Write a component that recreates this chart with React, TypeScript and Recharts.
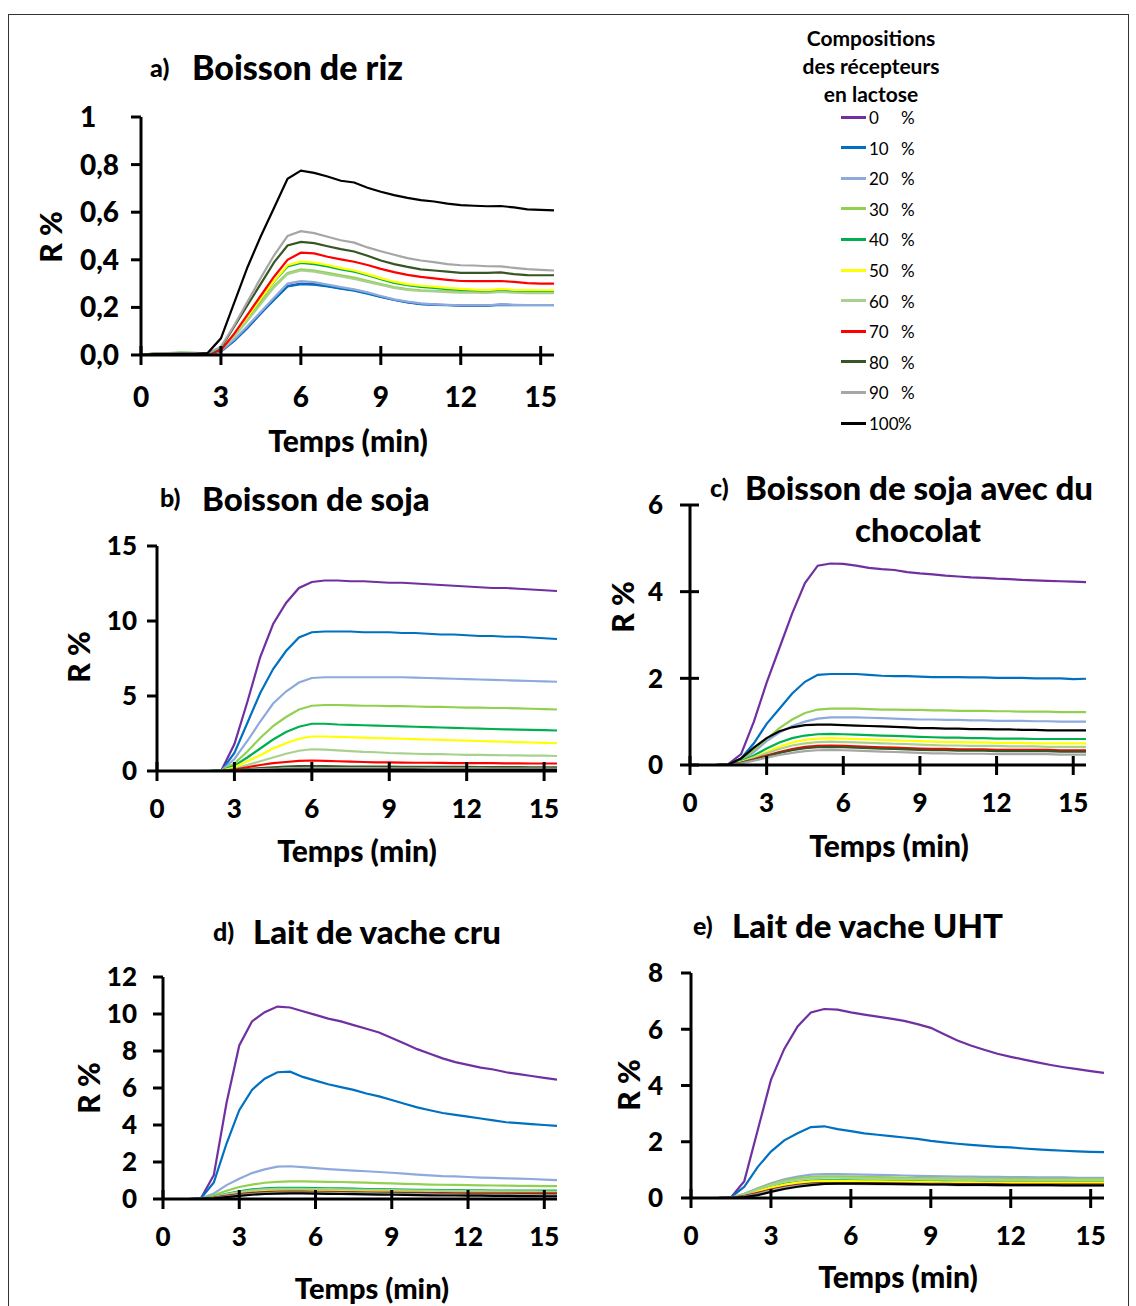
import React from 'react';
import { LineChart, Line, XAxis, YAxis } from 'recharts';

const FONT = "Lato, 'Open Sans', sans-serif";

// time axis (min), one reading every 30 s
const times = [0, 0.5, 1, 1.5, 2, 2.5, 3, 3.5, 4, 4.5, 5, 5.5, 6, 6.5, 7, 7.5, 8, 8.5, 9, 9.5, 10, 10.5, 11, 11.5, 12, 12.5, 13, 13.5, 14, 14.5, 15, 15.5];
const xTicks = [0, 3, 6, 9, 12, 15];

// receptor lactose compositions
const seriesLabels = ['0', '10', '20', '30', '40', '50', '60', '70', '80', '90', '100'];
const seriesColors = ['#7030A0', '#0070C0', '#8EA9DB', '#92D050', '#00B050', '#FFFF00', '#A9D18E', '#FF0000', '#375623', '#A6A6A6', '#000000'];

// a) Boisson de riz
const rizValues = [
  [0, 0.005, 0.005, 0.008, 0.006, 0.004, 0.015, 0.06, 0.115, 0.175, 0.235, 0.29, 0.3, 0.298, 0.29, 0.28, 0.272, 0.26, 0.245, 0.232, 0.222, 0.215, 0.212, 0.21, 0.208, 0.208, 0.208, 0.212, 0.21, 0.21, 0.21, 0.21],
  [0, 0.004, 0.006, 0.007, 0.006, 0.004, 0.015, 0.06, 0.115, 0.175, 0.232, 0.288, 0.298, 0.296, 0.288, 0.279, 0.27, 0.258, 0.244, 0.231, 0.221, 0.214, 0.211, 0.209, 0.207, 0.207, 0.207, 0.211, 0.209, 0.209, 0.209, 0.209],
  [0, 0.006, 0.005, 0.008, 0.007, 0.005, 0.018, 0.065, 0.122, 0.182, 0.242, 0.3, 0.31, 0.306, 0.296, 0.285, 0.276, 0.263, 0.248, 0.234, 0.224, 0.217, 0.213, 0.211, 0.209, 0.209, 0.209, 0.213, 0.211, 0.21, 0.21, 0.21],
  [0, 0.008, 0.007, 0.01, 0.009, 0.006, 0.02, 0.08, 0.15, 0.22, 0.29, 0.345, 0.36, 0.355, 0.345, 0.335, 0.325, 0.312, 0.298, 0.285, 0.277, 0.272, 0.27, 0.267, 0.265, 0.265, 0.264, 0.268, 0.265, 0.263, 0.262, 0.262],
  [0, 0.006, 0.008, 0.009, 0.008, 0.006, 0.02, 0.085, 0.16, 0.235, 0.31, 0.372, 0.387, 0.382, 0.372, 0.36, 0.35, 0.335, 0.318, 0.303, 0.293, 0.286, 0.282, 0.277, 0.273, 0.27, 0.268, 0.272, 0.268, 0.267, 0.266, 0.266],
  [0, 0.005, 0.006, 0.007, 0.006, 0.005, 0.02, 0.085, 0.16, 0.237, 0.312, 0.377, 0.392, 0.388, 0.378, 0.365, 0.355, 0.34, 0.323, 0.308, 0.298, 0.291, 0.287, 0.282, 0.278, 0.275, 0.273, 0.278, 0.274, 0.273, 0.272, 0.272],
  [0, 0.007, 0.008, 0.009, 0.009, 0.007, 0.02, 0.078, 0.145, 0.215, 0.285, 0.34, 0.355, 0.35, 0.34, 0.33, 0.32, 0.307, 0.294, 0.282, 0.274, 0.269, 0.267, 0.264, 0.262, 0.262, 0.261, 0.265, 0.262, 0.26, 0.26, 0.26],
  [0, 0.004, 0.004, 0.005, 0.004, 0.003, 0.02, 0.09, 0.17, 0.25, 0.33, 0.4, 0.43, 0.427, 0.413, 0.402, 0.392, 0.378, 0.362, 0.348, 0.337, 0.328, 0.322, 0.316, 0.311, 0.31, 0.31, 0.311, 0.307, 0.302, 0.3, 0.3],
  [0, 0.005, 0.006, 0.006, 0.006, 0.005, 0.03, 0.12, 0.21, 0.3, 0.39, 0.46, 0.475, 0.47, 0.457, 0.445, 0.435, 0.417, 0.397, 0.382, 0.37, 0.36, 0.355, 0.35, 0.345, 0.345, 0.345, 0.347, 0.34, 0.336, 0.335, 0.335],
  [0, 0.006, 0.006, 0.007, 0.007, 0.006, 0.035, 0.125, 0.225, 0.325, 0.42, 0.5, 0.52, 0.512, 0.497, 0.482, 0.472, 0.452, 0.436, 0.421, 0.407, 0.397, 0.39, 0.382, 0.377, 0.376, 0.373, 0.372, 0.366, 0.361, 0.358, 0.355],
  [0, 0.004, 0.004, 0.005, 0.005, 0.008, 0.07, 0.22, 0.37, 0.5, 0.62, 0.74, 0.775, 0.765, 0.75, 0.732, 0.725, 0.703, 0.686, 0.672, 0.66, 0.651, 0.645, 0.636, 0.63, 0.627, 0.625, 0.626, 0.62, 0.612, 0.61, 0.608],
];
const rizYTicks = [0, 0.2, 0.4, 0.6, 0.8, 1];

// b) Boisson de soja
const sojaValues = [
  [0, 0, 0, 0, 0, 0.05, 1.8, 4.6, 7.6, 9.8, 11.2, 12.2, 12.6, 12.7, 12.7, 12.65, 12.65, 12.6, 12.55, 12.55, 12.5, 12.45, 12.4, 12.35, 12.3, 12.25, 12.2, 12.2, 12.15, 12.1, 12.05, 12.0],
  [0, 0, 0, 0, 0, 0.04, 1.2, 3.2, 5.2, 6.8, 8.0, 8.9, 9.25, 9.3, 9.3, 9.3, 9.25, 9.25, 9.25, 9.2, 9.2, 9.15, 9.1, 9.1, 9.05, 9.0, 9.0, 8.95, 8.95, 8.9, 8.85, 8.8],
  [0, 0, 0, 0, 0, 0.03, 0.8, 2.0, 3.3, 4.5, 5.3, 5.9, 6.2, 6.25, 6.25, 6.25, 6.25, 6.25, 6.25, 6.25, 6.22, 6.2, 6.18, 6.15, 6.12, 6.1, 6.08, 6.05, 6.02, 6.0, 5.97, 5.95],
  [0, 0, 0, 0, 0, 0.02, 0.5, 1.3, 2.2, 3.0, 3.6, 4.1, 4.35, 4.4, 4.4, 4.38, 4.35, 4.35, 4.33, 4.32, 4.3, 4.28, 4.27, 4.25, 4.23, 4.22, 4.2, 4.2, 4.17, 4.15, 4.12, 4.1],
  [0, 0, 0, 0, 0, 0.02, 0.35, 0.9, 1.5, 2.1, 2.6, 2.95, 3.15, 3.15, 3.1, 3.08, 3.05, 3.03, 3.0, 2.98, 2.95, 2.92, 2.9, 2.88, 2.85, 2.82, 2.8, 2.78, 2.76, 2.74, 2.72, 2.7],
  [0, 0, 0, 0, 0, 0.01, 0.25, 0.65, 1.05, 1.5, 1.85, 2.15, 2.3, 2.3, 2.28, 2.25, 2.22, 2.2, 2.18, 2.15, 2.12, 2.1, 2.08, 2.05, 2.02, 2.0, 1.98, 1.95, 1.93, 1.9, 1.88, 1.85],
  [0, 0, 0, 0, 0, 0.01, 0.15, 0.4, 0.65, 0.9, 1.15, 1.35, 1.45, 1.42, 1.38, 1.33, 1.28, 1.25, 1.2, 1.18, 1.15, 1.13, 1.12, 1.1, 1.08, 1.07, 1.06, 1.05, 1.04, 1.03, 1.02, 1.0],
  [0, 0, 0, 0, 0, 0.01, 0.1, 0.25, 0.4, 0.52, 0.6, 0.67, 0.7, 0.68, 0.65, 0.63, 0.6, 0.58, 0.57, 0.56, 0.55, 0.55, 0.54, 0.53, 0.53, 0.52, 0.52, 0.51, 0.51, 0.5, 0.5, 0.5],
  [0, 0, 0, 0, 0, 0.01, 0.05, 0.12, 0.2, 0.25, 0.3, 0.32, 0.33, 0.32, 0.31, 0.3, 0.3, 0.29, 0.29, 0.28, 0.28, 0.28, 0.27, 0.27, 0.27, 0.26, 0.26, 0.26, 0.26, 0.25, 0.25, 0.25],
  [0, 0, 0, 0, 0, 0, 0.03, 0.08, 0.12, 0.15, 0.18, 0.2, 0.21, 0.2, 0.2, 0.19, 0.19, 0.19, 0.18, 0.18, 0.18, 0.18, 0.17, 0.17, 0.17, 0.17, 0.16, 0.16, 0.16, 0.16, 0.16, 0.15],
  [0, 0, 0, 0, 0, 0, 0.02, 0.04, 0.06, 0.08, 0.09, 0.1, 0.1, 0.1, 0.1, 0.1, 0.09, 0.09, 0.09, 0.09, 0.09, 0.08, 0.08, 0.08, 0.08, 0.08, 0.08, 0.08, 0.07, 0.07, 0.07, 0.07],
];
const sojaYTicks = [0, 5, 10, 15];

// c) Boisson de soja avec du chocolat
const chocolatValues = [
  [0, 0, 0, 0.02, 0.25, 1.0, 1.9, 2.7, 3.5, 4.2, 4.6, 4.65, 4.64, 4.6, 4.55, 4.52, 4.5, 4.45, 4.42, 4.4, 4.37, 4.35, 4.33, 4.32, 4.3, 4.29, 4.27, 4.26, 4.25, 4.24, 4.23, 4.22],
  [0, 0, 0, 0.01, 0.15, 0.5, 0.95, 1.3, 1.65, 1.92, 2.08, 2.1, 2.1, 2.1, 2.08, 2.06, 2.05, 2.05, 2.04, 2.03, 2.03, 2.03, 2.02, 2.02, 2.01, 2.01, 2.01, 2.0, 2.0, 2.0, 1.98, 1.99],
  [0, 0, 0, 0.01, 0.1, 0.3, 0.55, 0.75, 0.9, 1.0, 1.07, 1.1, 1.1, 1.1, 1.09, 1.08, 1.07, 1.06, 1.05, 1.05, 1.04, 1.04, 1.03, 1.03, 1.02, 1.02, 1.02, 1.01, 1.01, 1.0, 1.0, 1.0],
  [0, 0, 0, 0.01, 0.12, 0.35, 0.6, 0.85, 1.05, 1.2, 1.28, 1.3, 1.3, 1.3, 1.29, 1.28, 1.28, 1.27, 1.27, 1.26, 1.26, 1.25, 1.25, 1.25, 1.24, 1.24, 1.23, 1.23, 1.23, 1.22, 1.22, 1.22],
  [0, 0, 0, 0.01, 0.08, 0.22, 0.38, 0.52, 0.62, 0.68, 0.71, 0.72, 0.71, 0.7, 0.69, 0.68, 0.67, 0.66, 0.65, 0.64, 0.63, 0.63, 0.62, 0.62, 0.61, 0.61, 0.61, 0.6, 0.6, 0.6, 0.6, 0.6],
  [0, 0, 0, 0.01, 0.07, 0.18, 0.3, 0.42, 0.52, 0.58, 0.61, 0.62, 0.61, 0.6, 0.59, 0.58, 0.57, 0.56, 0.55, 0.54, 0.53, 0.53, 0.52, 0.52, 0.51, 0.51, 0.51, 0.5, 0.5, 0.5, 0.5, 0.5],
  [0, 0, 0, 0.01, 0.06, 0.16, 0.27, 0.37, 0.45, 0.5, 0.53, 0.54, 0.53, 0.52, 0.51, 0.5, 0.49, 0.48, 0.47, 0.46, 0.45, 0.45, 0.44, 0.44, 0.44, 0.43, 0.43, 0.43, 0.42, 0.42, 0.42, 0.42],
  [0, 0, 0, 0.01, 0.05, 0.13, 0.22, 0.3, 0.37, 0.42, 0.44, 0.45, 0.44, 0.43, 0.42, 0.41, 0.4, 0.39, 0.38, 0.37, 0.37, 0.36, 0.36, 0.36, 0.35, 0.35, 0.35, 0.35, 0.35, 0.34, 0.34, 0.34],
  [0, 0, 0, 0.01, 0.05, 0.12, 0.2, 0.28, 0.34, 0.39, 0.41, 0.42, 0.41, 0.4, 0.39, 0.38, 0.37, 0.36, 0.35, 0.34, 0.34, 0.33, 0.33, 0.33, 0.32, 0.32, 0.32, 0.32, 0.32, 0.31, 0.31, 0.31],
  [0, 0, 0, 0.01, 0.04, 0.1, 0.17, 0.23, 0.28, 0.32, 0.34, 0.35, 0.34, 0.33, 0.32, 0.31, 0.3, 0.29, 0.28, 0.27, 0.27, 0.26, 0.26, 0.26, 0.25, 0.25, 0.25, 0.25, 0.25, 0.24, 0.24, 0.24],
  [0, 0, 0, 0.01, 0.15, 0.4, 0.62, 0.78, 0.87, 0.92, 0.93, 0.93, 0.92, 0.91, 0.9, 0.89, 0.88, 0.87, 0.85, 0.85, 0.84, 0.84, 0.83, 0.83, 0.82, 0.82, 0.81, 0.81, 0.8, 0.8, 0.8, 0.8],
];
const chocolatYTicks = [0, 2, 4, 6];

// d) Lait de vache cru
const cruValues = [
  [0, 0, 0, 0.05, 1.3, 5.2, 8.3, 9.6, 10.1, 10.4, 10.35, 10.15, 9.95, 9.75, 9.6, 9.4, 9.2, 9.0, 8.7, 8.4, 8.1, 7.85, 7.6, 7.4, 7.25, 7.1, 7.0, 6.85, 6.75, 6.65, 6.55, 6.45],
  [0, 0, 0, 0.05, 0.9, 3.0, 4.8, 5.9, 6.5, 6.85, 6.88, 6.6, 6.4, 6.2, 6.05, 5.9, 5.7, 5.55, 5.35, 5.15, 4.95, 4.8, 4.65, 4.55, 4.45, 4.35, 4.25, 4.15, 4.1, 4.05, 4.0, 3.95],
  [0, 0, 0, 0.02, 0.3, 0.75, 1.1, 1.4, 1.6, 1.75, 1.77, 1.72, 1.67, 1.62, 1.57, 1.53, 1.5, 1.46, 1.42, 1.37, 1.32, 1.28, 1.24, 1.22, 1.19, 1.16, 1.14, 1.12, 1.1, 1.08, 1.05, 1.02],
  [0, 0, 0, 0.01, 0.2, 0.45, 0.65, 0.78, 0.88, 0.93, 0.95, 0.95, 0.94, 0.93, 0.92, 0.9, 0.88, 0.86, 0.84, 0.82, 0.8, 0.78, 0.77, 0.76, 0.75, 0.74, 0.73, 0.72, 0.71, 0.71, 0.7, 0.7],
  [0, 0, 0, 0.01, 0.12, 0.28, 0.42, 0.52, 0.57, 0.6, 0.6, 0.6, 0.59, 0.58, 0.57, 0.56, 0.54, 0.53, 0.52, 0.51, 0.5, 0.49, 0.48, 0.48, 0.47, 0.47, 0.46, 0.46, 0.45, 0.45, 0.45, 0.45],
  [0, 0, 0, 0.01, 0.08, 0.2, 0.3, 0.37, 0.42, 0.45, 0.45, 0.45, 0.44, 0.44, 0.43, 0.42, 0.41, 0.4, 0.4, 0.39, 0.38, 0.38, 0.37, 0.37, 0.36, 0.36, 0.36, 0.35, 0.35, 0.35, 0.35, 0.35],
  [0, 0, 0, 0.01, 0.1, 0.25, 0.38, 0.47, 0.52, 0.55, 0.55, 0.55, 0.54, 0.53, 0.52, 0.51, 0.5, 0.49, 0.48, 0.47, 0.46, 0.45, 0.44, 0.44, 0.43, 0.43, 0.42, 0.42, 0.41, 0.41, 0.4, 0.4],
  [0, 0, 0, 0.01, 0.07, 0.17, 0.26, 0.33, 0.37, 0.4, 0.4, 0.4, 0.39, 0.38, 0.37, 0.36, 0.35, 0.34, 0.34, 0.33, 0.33, 0.32, 0.32, 0.31, 0.31, 0.31, 0.3, 0.3, 0.3, 0.3, 0.3, 0.3],
  [0, 0, 0, 0.01, 0.06, 0.15, 0.24, 0.31, 0.35, 0.37, 0.38, 0.38, 0.37, 0.36, 0.35, 0.34, 0.33, 0.32, 0.31, 0.3, 0.3, 0.29, 0.28, 0.28, 0.27, 0.27, 0.26, 0.26, 0.26, 0.25, 0.25, 0.25],
  [0, 0, 0, 0.01, 0.05, 0.13, 0.21, 0.27, 0.31, 0.34, 0.35, 0.35, 0.34, 0.33, 0.32, 0.31, 0.3, 0.29, 0.28, 0.27, 0.26, 0.25, 0.24, 0.24, 0.23, 0.23, 0.22, 0.22, 0.21, 0.21, 0.2, 0.2],
  [0, 0, 0, 0.01, 0.04, 0.1, 0.17, 0.23, 0.27, 0.29, 0.3, 0.3, 0.29, 0.28, 0.27, 0.26, 0.25, 0.24, 0.23, 0.22, 0.21, 0.2, 0.19, 0.19, 0.18, 0.18, 0.17, 0.17, 0.16, 0.16, 0.15, 0.15],
];
const cruYTicks = [0, 2, 4, 6, 8, 10, 12];

// e) Lait de vache UHT
const uhtValues = [
  [0, 0, 0, 0.02, 0.6, 2.4, 4.2, 5.3, 6.1, 6.6, 6.72, 6.7, 6.6, 6.52, 6.45, 6.38, 6.3, 6.18, 6.05, 5.82, 5.6, 5.42, 5.27, 5.13, 5.02, 4.92, 4.82, 4.73, 4.65, 4.58, 4.51, 4.45],
  [0, 0, 0, 0.02, 0.4, 1.1, 1.65, 2.05, 2.3, 2.52, 2.55, 2.45, 2.38, 2.3, 2.25, 2.2, 2.15, 2.1, 2.03, 1.98, 1.93, 1.89, 1.85, 1.82, 1.8, 1.76, 1.73, 1.7, 1.68, 1.66, 1.64, 1.63],
  [0, 0, 0, 0.01, 0.15, 0.35, 0.52, 0.66, 0.76, 0.83, 0.85, 0.85, 0.84, 0.83, 0.82, 0.81, 0.8, 0.79, 0.78, 0.77, 0.76, 0.76, 0.75, 0.75, 0.74, 0.74, 0.73, 0.73, 0.73, 0.72, 0.72, 0.72],
  [0, 0, 0, 0.01, 0.14, 0.33, 0.5, 0.62, 0.7, 0.75, 0.77, 0.77, 0.76, 0.75, 0.74, 0.73, 0.72, 0.71, 0.71, 0.7, 0.7, 0.7, 0.69, 0.69, 0.69, 0.68, 0.68, 0.68, 0.68, 0.68, 0.68, 0.68],
  [0, 0, 0, 0.01, 0.1, 0.25, 0.38, 0.5, 0.57, 0.62, 0.63, 0.63, 0.63, 0.62, 0.62, 0.61, 0.6, 0.6, 0.59, 0.59, 0.58, 0.58, 0.58, 0.58, 0.57, 0.57, 0.57, 0.57, 0.57, 0.57, 0.57, 0.57],
  [0, 0, 0, 0.01, 0.1, 0.24, 0.37, 0.48, 0.55, 0.59, 0.6, 0.6, 0.6, 0.59, 0.59, 0.58, 0.58, 0.57, 0.57, 0.56, 0.56, 0.56, 0.55, 0.55, 0.55, 0.55, 0.55, 0.55, 0.55, 0.55, 0.55, 0.55],
  [0, 0, 0, 0.01, 0.12, 0.3, 0.46, 0.58, 0.65, 0.7, 0.72, 0.72, 0.71, 0.7, 0.69, 0.68, 0.68, 0.67, 0.67, 0.66, 0.66, 0.65, 0.65, 0.65, 0.64, 0.64, 0.64, 0.64, 0.64, 0.64, 0.64, 0.64],
  [0, 0, 0, 0.01, 0.07, 0.18, 0.3, 0.4, 0.47, 0.51, 0.53, 0.53, 0.53, 0.52, 0.52, 0.51, 0.51, 0.5, 0.5, 0.5, 0.49, 0.49, 0.49, 0.49, 0.48, 0.48, 0.48, 0.48, 0.48, 0.48, 0.48, 0.48],
  [0, 0, 0, 0.01, 0.06, 0.16, 0.28, 0.38, 0.45, 0.5, 0.52, 0.52, 0.52, 0.51, 0.51, 0.5, 0.5, 0.49, 0.49, 0.49, 0.48, 0.48, 0.48, 0.48, 0.47, 0.47, 0.47, 0.47, 0.47, 0.47, 0.47, 0.47],
  [0, 0, 0, 0.01, 0.05, 0.14, 0.26, 0.36, 0.43, 0.48, 0.5, 0.5, 0.5, 0.49, 0.49, 0.48, 0.48, 0.47, 0.47, 0.47, 0.46, 0.46, 0.46, 0.46, 0.45, 0.45, 0.45, 0.45, 0.45, 0.45, 0.45, 0.45],
  [0, 0, 0, 0, 0.03, 0.1, 0.22, 0.32, 0.4, 0.46, 0.5, 0.51, 0.51, 0.51, 0.5, 0.5, 0.49, 0.49, 0.48, 0.48, 0.47, 0.47, 0.47, 0.46, 0.46, 0.46, 0.46, 0.46, 0.45, 0.45, 0.45, 0.45],
];
const uhtYTicks = [0, 2, 4, 6, 8];

const buildRows = (values: number[][]) =>
  times.map((t, i) => {
    const row: Record<string, number> = { t };
    values.forEach((s, k) => (row['s' + k] = s[i]));
    return row;
  });

const commaFmt = (v: number) => (v === 1 ? '1' : v.toFixed(1).replace('.', ','));
const intFmt = (v: number) => String(v);

interface Box { l: number; t: number; r: number; b: number }

interface PanelProps {
  values: number[][];
  yTicks: number[];
  box: Box;
  fmt: (v: number) => string;
  tickFont: number;
  yLabelX: number;
  yAnchor: 'start' | 'end';
  yCross?: boolean;
  xLabelDy: number;
}

const PAD_L = 100;
const PAD_T = 20;
const PAD_R = 15;
const PAD_B = 60;
const HEAVY = 900;

const Panel = ({ values, yTicks, box, fmt, tickFont, yLabelX, yAnchor, yCross, xLabelDy }: PanelProps) => {
  const data = buildRows(values);
  const w = box.r - box.l + PAD_L + PAD_R;
  const h = box.b - box.t + PAD_T + PAD_B;

  const xTick = (p: any) => (
    <g>
      <line x1={p.x} x2={p.x} y1={p.y - 9} y2={p.y + 10} stroke="#000" strokeWidth={3} />
      <text x={p.x} y={p.y + xLabelDy} dy="0.36em" textAnchor="middle" fontSize={tickFont} fontWeight={HEAVY} fontFamily={FONT} fill="#000">
        {p.payload.value}
      </text>
    </g>
  );

  const yTick = (p: any) => (
    <g>
      <line x1={p.x - 10} x2={yCross ? p.x + 9 : p.x} y1={p.y} y2={p.y} stroke="#000" strokeWidth={3} />
      <text x={p.x + yLabelX} y={p.y} dy="0.36em" textAnchor={yAnchor} fontSize={tickFont} fontWeight={HEAVY} fontFamily={FONT} fill="#000">
        {fmt(p.payload.value)}
      </text>
    </g>
  );

  return (
    <div style={{ position: 'absolute', left: box.l - PAD_L, top: box.t - PAD_T }}>
      <LineChart width={w} height={h} data={data} margin={{ top: PAD_T, right: PAD_R, bottom: 0, left: 0 }}>
        <XAxis
          dataKey="t"
          type="number"
          domain={[0, 15.5]}
          ticks={xTicks}
          interval={0}
          height={PAD_B}
          tickSize={0}
          tickMargin={0}
          tickLine={false}
          axisLine={{ stroke: '#000', strokeWidth: 3 }}
          tick={xTick}
          allowDataOverflow
        />
        <YAxis
          type="number"
          domain={[0, yTicks[yTicks.length - 1]]}
          ticks={yTicks}
          interval={0}
          width={PAD_L}
          tickSize={0}
          tickMargin={0}
          tickLine={false}
          axisLine={{ stroke: '#000', strokeWidth: 3 }}
          tick={yTick}
          allowDataOverflow
        />
        {seriesLabels.map((lab, k) => (
          <Line
            key={lab}
            type="linear"
            dataKey={'s' + k}
            stroke={seriesColors[k]}
            strokeWidth={2.2}
            dot={false}
            activeDot={false}
            isAnimationActive={false}
          />
        ))}
      </LineChart>
    </div>
  );
};

const Txt = ({ x, y, size, children, center = false, weight = HEAVY, rotate = false }: any) => (
  <div
    style={{
      position: 'absolute',
      left: x,
      top: y,
      fontFamily: FONT,
      fontSize: size,
      fontWeight: weight,
      lineHeight: 1,
      whiteSpace: 'nowrap',
      color: '#000',
      transform: rotate ? 'translate(-50%, -50%) rotate(-90deg)' : center ? 'translate(-50%, -50%)' : 'translate(0, -50%)',
    }}
  >
    {children}
  </div>
);

const Legend = () => (
  <>
    <Txt x={871} y={37} size={21} weight={700} center>Compositions</Txt>
    <Txt x={871} y={65} size={21} weight={700} center>des récepteurs</Txt>
    <Txt x={871} y={93} size={21} weight={700} center>en lactose</Txt>
    {seriesLabels.map((lab, i) => {
      const cy = 117 + i * 30.6;
      return (
        <React.Fragment key={lab}>
          <div style={{ position: 'absolute', left: 841, top: cy - 1.5, width: 25, height: 3, background: seriesColors[i] }} />
          <Txt x={869} y={cy} size={17} weight={400}>{lab}</Txt>
          <Txt x={lab === '100' ? 898 : 901} y={cy} size={17} weight={400}>%</Txt>
        </React.Fragment>
      );
    })}
  </>
);

export default function App() {
  return (
    <div style={{ position: 'absolute', left: 0, top: 0, width: 1136, height: 1306, overflow: 'hidden', background: '#fff' }}>
      <div style={{ position: 'absolute', left: 8, top: 14, width: 1121, height: 1320, border: '1.5px solid #333', boxSizing: 'border-box' }} />

      {/* a) */}
      <Txt x={150} y={67} size={25}>a)</Txt>
      <Txt x={192} y={67} size={34}>Boisson de riz</Txt>
      <Panel values={rizValues} yTicks={rizYTicks} box={{ l: 141, t: 117, r: 554, b: 355 }} fmt={commaFmt} tickFont={28} yLabelX={-61} yAnchor="start" xLabelDy={42} />
      <Txt x={50} y={237} size={30} rotate>R %</Txt>
      <Txt x={348} y={440} size={30} center>Temps (min)</Txt>

      <Legend />

      {/* b) */}
      <Txt x={160} y={497} size={25}>b)</Txt>
      <Txt x={202} y={498} size={33}>Boisson de soja</Txt>
      <Panel values={sojaValues} yTicks={sojaYTicks} box={{ l: 157, t: 546, r: 557, b: 771 }} fmt={intFmt} tickFont={26} yLabelX={-20} yAnchor="end" xLabelDy={38} />
      <Txt x={78} y={657} size={30} rotate>R %</Txt>
      <Txt x={357} y={850} size={30} center>Temps (min)</Txt>

      {/* c) */}
      <Txt x={710} y={487} size={25}>c)</Txt>
      <Txt x={745} y={487} size={33}>Boisson de soja avec du</Txt>
      <Txt x={918} y={529} size={33} center>chocolat</Txt>
      <Panel values={chocolatValues} yTicks={chocolatYTicks} box={{ l: 690, t: 505, r: 1086, b: 765 }} fmt={intFmt} tickFont={26} yLabelX={-27} yAnchor="end" yCross xLabelDy={38} />
      <Txt x={622} y={607} size={30} rotate>R %</Txt>
      <Txt x={889} y={845} size={30} center>Temps (min)</Txt>

      {/* d) */}
      <Txt x={213} y={931} size={25}>d)</Txt>
      <Txt x={253} y={931} size={33}>Lait de vache cru</Txt>
      <Panel values={cruValues} yTicks={cruYTicks} box={{ l: 163, t: 977, r: 557, b: 1199 }} fmt={intFmt} tickFont={26} yLabelX={-26} yAnchor="end" xLabelDy={38} />
      <Txt x={88} y={1088} size={30} rotate>R %</Txt>
      <Txt x={372} y={1287} size={29} center>Temps (min)</Txt>

      {/* e) */}
      <Txt x={693} y={925} size={25}>e)</Txt>
      <Txt x={732} y={925} size={33}>Lait de vache UHT</Txt>
      <Panel values={uhtValues} yTicks={uhtYTicks} box={{ l: 691, t: 973, r: 1104, b: 1198 }} fmt={intFmt} tickFont={26} yLabelX={-28} yAnchor="end" xLabelDy={38} />
      <Txt x={628} y={1085} size={30} rotate>R %</Txt>
      <Txt x={898} y={1276} size={30} center>Temps (min)</Txt>
    </div>
  );
}
